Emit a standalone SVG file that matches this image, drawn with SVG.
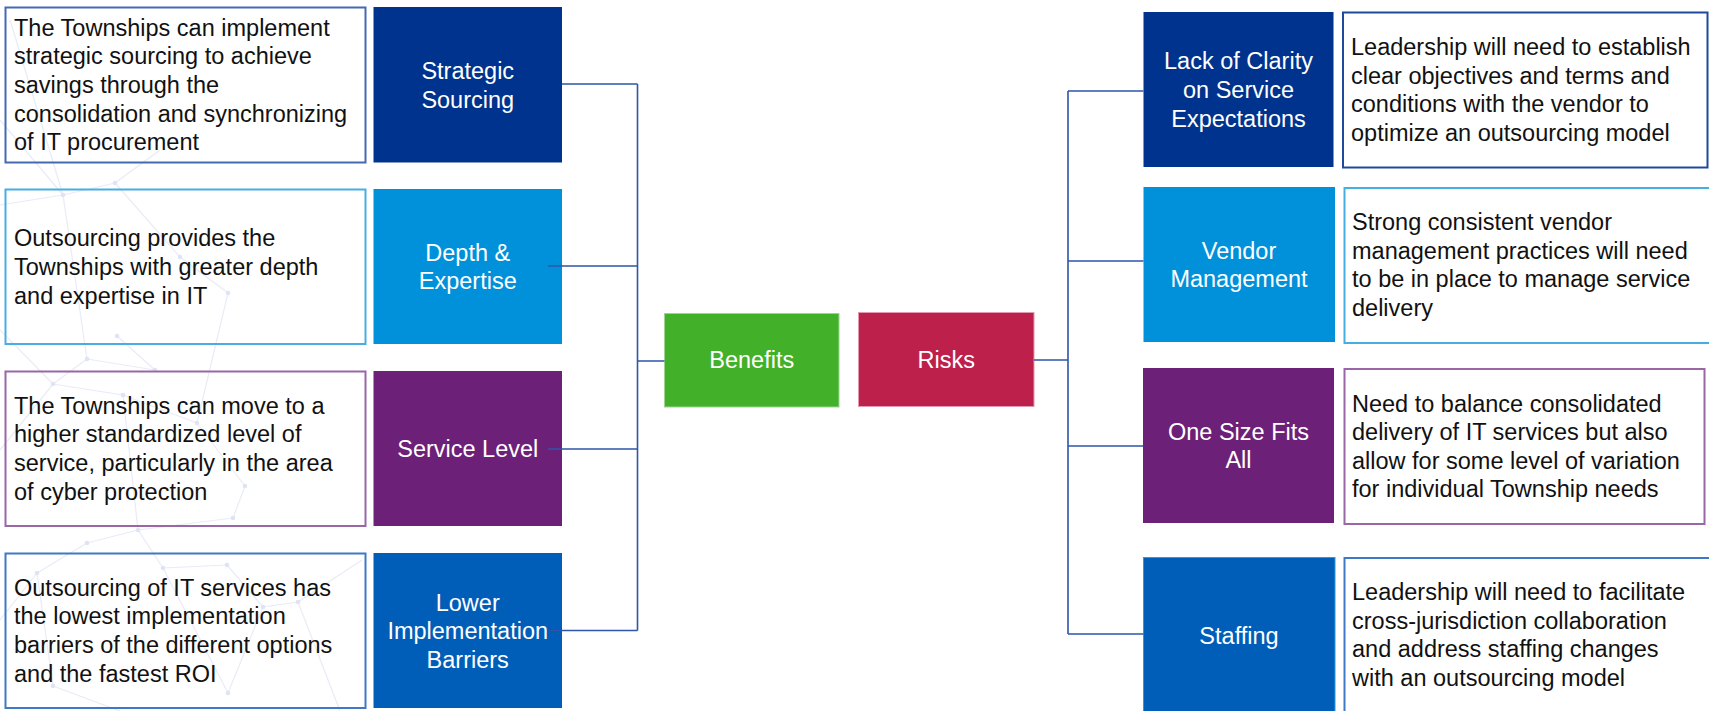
<svg xmlns="http://www.w3.org/2000/svg" width="1709" height="711" viewBox="0 0 1709 711">
<style>
  .deco line{stroke:#e9ebf7;stroke-width:1.2}
  .deco circle{fill:#dfe3f6}
  .desc{fill:none;stroke-width:2}
  .dt{font-family:"Liberation Sans",Arial,sans-serif;font-size:23.5px;fill:#111111}
  .lt{font-family:"Liberation Sans",Arial,sans-serif;font-size:23.5px;fill:#ffffff;text-anchor:middle}
  .conn{stroke:#2f55a8;stroke-width:1.6;fill:none}
  .navy{fill:#00338d}
  .lblue{fill:#0091da}
  .purple{fill:#6d2077}
  .mblue{fill:#005eb8}
</style>
<rect width="1709" height="711" fill="#ffffff"/>
<g class="deco">
  <line x1="0" y1="120" x2="63" y2="195"/>
  <line x1="63" y1="195" x2="115" y2="183"/>
  <line x1="0" y1="205" x2="63" y2="195"/>
  <line x1="63" y1="195" x2="87" y2="359"/>
  <line x1="115" y1="183" x2="180" y2="257"/>
  <line x1="180" y1="257" x2="228" y2="293"/>
  <line x1="115" y1="183" x2="160" y2="150"/>
  <line x1="228" y1="293" x2="197" y2="423"/>
  <line x1="87" y1="359" x2="53" y2="384"/>
  <line x1="87" y1="359" x2="155" y2="370"/>
  <line x1="53" y1="384" x2="123" y2="395"/>
  <line x1="123" y1="395" x2="197" y2="423"/>
  <line x1="117" y1="336" x2="155" y2="370"/>
  <line x1="0" y1="330" x2="53" y2="384"/>
  <line x1="123" y1="395" x2="138" y2="530"/>
  <line x1="197" y1="423" x2="245" y2="486"/>
  <line x1="245" y1="486" x2="233" y2="518"/>
  <line x1="233" y1="518" x2="138" y2="530"/>
  <line x1="138" y1="530" x2="87" y2="543"/>
  <line x1="87" y1="543" x2="37" y2="573"/>
  <line x1="138" y1="530" x2="163" y2="568"/>
  <line x1="163" y1="568" x2="227" y2="565"/>
  <line x1="227" y1="565" x2="263" y2="607"/>
  <line x1="263" y1="607" x2="298" y2="602"/>
  <line x1="263" y1="607" x2="228" y2="693"/>
  <line x1="163" y1="568" x2="228" y2="693"/>
  <line x1="37" y1="573" x2="53" y2="686"/>
  <line x1="53" y1="686" x2="120" y2="711"/>
  <line x1="0" y1="620" x2="37" y2="573"/>
  <line x1="298" y1="602" x2="340" y2="711"/>
  <line x1="298" y1="602" x2="362" y2="560"/>
  <line x1="0" y1="450" x2="53" y2="384"/>
  <line x1="10" y1="20" x2="63" y2="195"/>
</g>
<g class="deco">
  <circle cx="63" cy="195" r="2.3"/><circle cx="115" cy="183" r="2.3"/><circle cx="87" cy="359" r="2.3"/>
  <circle cx="53" cy="384" r="2.3"/><circle cx="155" cy="370" r="2.3"/><circle cx="180" cy="257" r="2.3"/>
  <circle cx="228" cy="293" r="2.3"/><circle cx="123" cy="395" r="2.3"/><circle cx="138" cy="530" r="2.3"/>
  <circle cx="87" cy="543" r="2.3"/><circle cx="163" cy="568" r="2.3"/><circle cx="227" cy="565" r="2.3"/>
  <circle cx="263" cy="607" r="2.3"/><circle cx="298" cy="602" r="2.3"/><circle cx="245" cy="486" r="2.3"/>
  <circle cx="233" cy="518" r="2.3"/><circle cx="228" cy="693" r="2.3"/><circle cx="53" cy="686" r="2.3"/>
  <circle cx="37" cy="573" r="2.3"/><circle cx="197" cy="423" r="2.3"/><circle cx="117" cy="336" r="2.3"/>
</g>

<g id="benefit-desc-1">
  <rect class="desc" x="5.5" y="7.5" width="360" height="155" stroke="#4569b2"/>
  <text class="dt"><tspan x="14" y="35.7">The Townships can implement</tspan><tspan x="14" y="64.3">strategic sourcing to achieve</tspan><tspan x="14" y="92.9">savings through the</tspan><tspan x="14" y="121.5">consolidation and synchronizing</tspan><tspan x="14" y="150.1">of IT procurement</tspan></text>
</g>
<g id="benefit-desc-2">
  <rect class="desc" x="5.5" y="189.5" width="360" height="154.5" stroke="#46aee3"/>
  <text class="dt"><tspan x="14" y="246.3">Outsourcing provides the</tspan><tspan x="14" y="274.9">Townships with greater depth</tspan><tspan x="14" y="303.5">and expertise in IT</tspan></text>
</g>
<g id="benefit-desc-3">
  <rect class="desc" x="5.5" y="371.5" width="360" height="154.5" stroke="#9a67a6"/>
  <text class="dt"><tspan x="14" y="413.8">The Townships can move to a</tspan><tspan x="14" y="442.4">higher standardized level of</tspan><tspan x="14" y="471">service, particularly in the area</tspan><tspan x="14" y="499.6">of cyber protection</tspan></text>
</g>
<g id="benefit-desc-4">
  <rect class="desc" x="5.5" y="553.5" width="360" height="154.5" stroke="#3f78c4"/>
  <text class="dt"><tspan x="14" y="595.8">Outsourcing of IT services has</tspan><tspan x="14" y="624.4">the lowest implementation</tspan><tspan x="14" y="653">barriers of the different options</tspan><tspan x="14" y="681.6">and the fastest ROI</tspan></text>
</g>

<g id="strategic-sourcing">
  <rect class="navy" x="373.5" y="7" width="188.5" height="155.5"/>
  <text class="lt"><tspan x="467.75" y="79.1">Strategic</tspan><tspan x="467.75" y="107.7">Sourcing</tspan></text>
</g>
<g id="depth-expertise">
  <rect class="lblue" x="373.5" y="189" width="188.5" height="155"/>
  <text class="lt"><tspan x="467.75" y="260.6">Depth &amp;</tspan><tspan x="467.75" y="289.2">Expertise</tspan></text>
</g>
<g id="service-level">
  <rect class="purple" x="373.5" y="371" width="188.5" height="155"/>
  <text class="lt" x="467.75" y="457.4">Service Level</text>
</g>
<g id="lower-implementation-barriers">
  <rect class="mblue" x="373.5" y="553" width="188.5" height="155"/>
  <text class="lt"><tspan x="467.75" y="610.7">Lower</tspan><tspan x="467.75" y="639.3">Implementation</tspan><tspan x="467.75" y="668.3">Barriers</tspan></text>
</g>

<g id="benefits">
  <rect x="664.5" y="313.5" width="174.5" height="93.5" fill="#43b02a" stroke="#9fd48f" stroke-width="1"/>
  <text class="lt" x="751.75" y="368.4">Benefits</text>
</g>
<g id="risks">
  <rect x="858.5" y="312.5" width="175.5" height="94" fill="#bc204b" stroke="#e39aae" stroke-width="1"/>
  <text class="lt" x="946.25" y="368.4">Risks</text>
</g>

<g id="lack-of-clarity">
  <rect class="navy" x="1143.5" y="12" width="190" height="155"/>
  <text class="lt"><tspan x="1238.5" y="69.3">Lack of Clarity</tspan><tspan x="1238.5" y="97.9">on Service</tspan><tspan x="1238.5" y="126.5">Expectations</tspan></text>
</g>
<g id="vendor-management">
  <rect class="lblue" x="1143.5" y="187" width="191.5" height="155"/>
  <text class="lt"><tspan x="1239" y="258.6">Vendor</tspan><tspan x="1239" y="287.2">Management</tspan></text>
</g>
<g id="one-size-fits-all">
  <rect class="purple" x="1143" y="368" width="191" height="155"/>
  <text class="lt"><tspan x="1238.5" y="439.6">One Size Fits</tspan><tspan x="1238.5" y="468.2">All</tspan></text>
</g>
<g id="staffing">
  <rect class="mblue" x="1143.5" y="557.5" width="191.5" height="160" stroke="#2c9ae0" stroke-width="1"/>
  <text class="lt" x="1239" y="644">Staffing</text>
</g>

<g id="risk-desc-1">
  <rect class="desc" x="1343" y="12.5" width="364.5" height="155" stroke="#1f4a9a"/>
  <text class="dt"><tspan x="1351" y="55">Leadership will need to establish</tspan><tspan x="1351" y="83.6">clear objectives and terms and</tspan><tspan x="1351" y="112.2">conditions with the vendor to</tspan><tspan x="1351" y="140.8">optimize an outsourcing model</tspan></text>
</g>
<g id="risk-desc-2">
  <rect class="desc" x="1344.5" y="188" width="366" height="155" stroke="#46aee3"/>
  <text class="dt"><tspan x="1352" y="230">Strong consistent vendor</tspan><tspan x="1352" y="258.6">management practices will need</tspan><tspan x="1352" y="287.2">to be in place to manage service</tspan><tspan x="1352" y="315.8">delivery</tspan></text>
</g>
<g id="risk-desc-3">
  <rect class="desc" x="1344.5" y="369" width="360" height="155" stroke="#9a67a6"/>
  <text class="dt"><tspan x="1352" y="411.5">Need to balance consolidated</tspan><tspan x="1352" y="440.1">delivery of IT services but also</tspan><tspan x="1352" y="468.7">allow for some level of variation</tspan><tspan x="1352" y="497.3">for individual Township needs</tspan></text>
</g>
<g id="risk-desc-4">
  <rect class="desc" x="1344.5" y="558" width="366" height="160" stroke="#3f78c4"/>
  <text class="dt"><tspan x="1352" y="600">Leadership will need to facilitate</tspan><tspan x="1352" y="628.6">cross-jurisdiction collaboration</tspan><tspan x="1352" y="657.2">and address staffing changes</tspan><tspan x="1352" y="685.8">with an outsourcing model</tspan></text>
</g>

<g id="connectors">
  <path class="conn" d="M562 84 H637.5 M548 266 H637.5 M548 449 H637.5 M550 630.5 H637.5 M637.5 84 V630.5 M637.5 361 H664.5"/>
  <path class="conn" d="M1034 360 H1068 M1068 91 V634 M1068 91 H1143.5 M1068 261 H1143.5 M1068 446 H1143 M1068 634 H1143.5"/>
</g>
</svg>
